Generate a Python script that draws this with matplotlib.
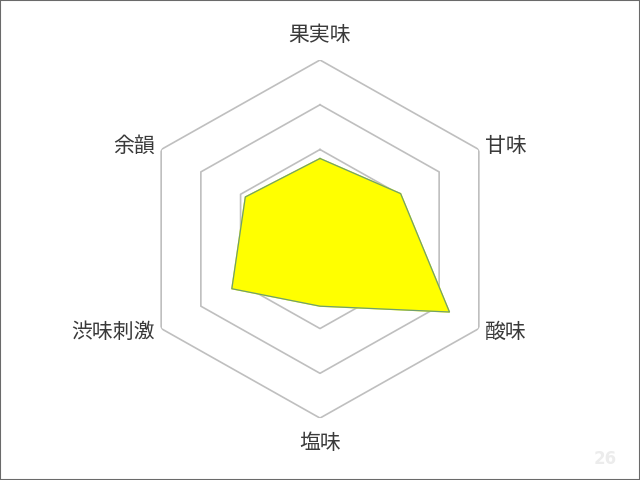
import numpy as np
import matplotlib.pyplot as plt
from matplotlib.patches import Rectangle

plt.rcParams['font.family'] = ['Noto Sans CJK JP', 'DejaVu Sans']

labels = ["果実味", "甘味", "酸味", "塩味", "渋味刺激", "余韻"]
values = [1.80, 2.03, 3.26, 1.50, 2.22, 1.88]
rings = [1, 2, 3, 4]
page_no = "26"

n = len(labels)
theta = np.linspace(0, 2 * np.pi, n, endpoint=False)
theta_c = np.append(theta, theta[0])

fig = plt.figure(figsize=(6.4, 4.8), dpi=100)
ax = fig.add_axes([0.5 - 0.2866, 0.502 - 0.373, 0.5732, 0.746], projection='polar')
ax.set_aspect('auto')
ax.set_theta_offset(np.pi / 2)
ax.set_theta_direction(-1)
ax.set_ylim(0, 4)
ax.grid(False)
ax.spines['polar'].set_visible(False)
ax.set_xticks([])
ax.set_yticks([])
ax.patch.set_alpha(0)

# hexagon gridlines
for r in rings:
    ax.plot(theta_c, [r] * (n + 1), color='#bfbfbf', lw=1.2, zorder=1)

vals_c = values + values[:1]
ax.fill(theta_c, vals_c, color='#ffff00', zorder=2)
ax.plot(theta_c, vals_c, color='#6f9f6f', lw=0.9, zorder=3)

# category labels
pos = [
    (0, 4.56, 'center', 'center'),
    (theta[1], 4.15, 'left', 'center'),
    (theta[2], 4.15, 'left', 'center'),
    (np.pi, 4.56, 'center', 'center'),
    (theta[4], 4.15, 'right', 'center'),
    (theta[5], 4.15, 'right', 'center'),
]
for lab, (t, r, ha, va) in zip(labels, pos):
    ax.text(t, r, lab, ha=ha, va=va, fontsize=15, color='#3a3a3a')

fig.text(605 / 640, 1 - 459 / 480, page_no, ha='center', va='center',
         fontsize=12, fontweight='bold', color='#ececec', family='DejaVu Sans')

fig.patches.append(Rectangle((0, 0), 1, 1, transform=fig.transFigure,
                             fill=False, edgecolor='#6a6a6a', lw=1.5))

fig.savefig("out.png", dpi=100)
